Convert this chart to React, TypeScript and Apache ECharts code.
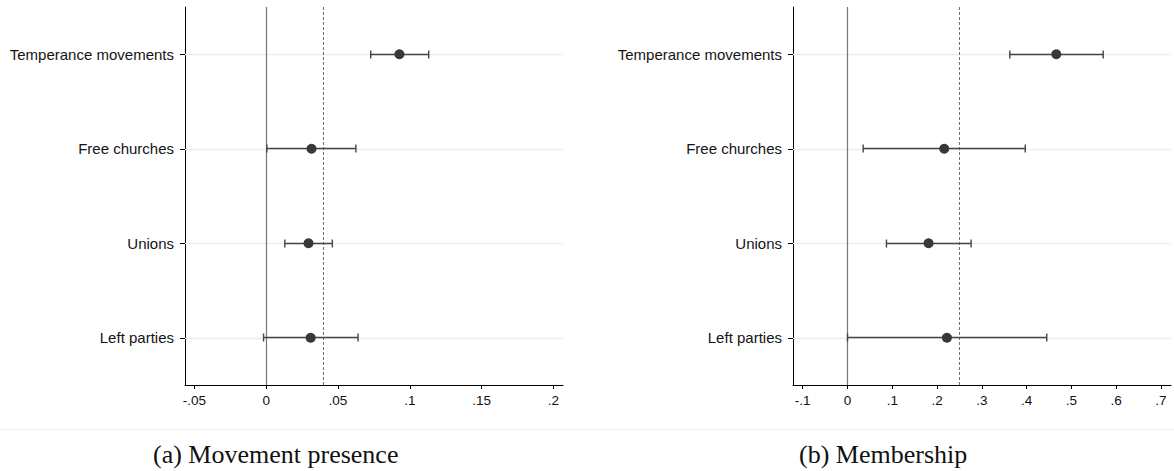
import React, { useEffect, useRef } from "react";
import * as echarts from "echarts";

const categories = ["Temperance movements", "Free churches", "Unions", "Left parties"];

const presenceEst = [0.0928, 0.0316, 0.0295, 0.031];
const presenceLow = [0.0728, 0.0005, 0.013, -0.0018];
const presenceHigh = [0.1132, 0.0625, 0.0461, 0.064];
const presenceRef = 0.0403;
const presenceTicks = [-0.05, 0, 0.05, 0.1, 0.15, 0.2];
const presenceRange = [-0.0565, 0.2067];

const memberEst = [0.4663, 0.216, 0.181, 0.222];
const memberLow = [0.3624, 0.035, 0.087, 0.0];
const memberHigh = [0.571, 0.397, 0.276, 0.445];
const memberRef = 0.248;
const memberTicks = [-0.1, 0, 0.1, 0.2, 0.3, 0.4, 0.5, 0.6, 0.7];
const memberRange = [-0.1217, 0.7224];

const captions = ["(a) Movement presence", "(b) Membership"];

const fmt = (v: number) => (v === 0 ? "0" : String(v).replace(/^(-?)0\./, "$1."));

const SANS = "'Liberation Sans', Arial, Helvetica, sans-serif";
const SERIF = "'Liberation Serif', 'Times New Roman', serif";

export default function App() {
  const ref = useRef<HTMLDivElement>(null);
  useEffect(() => {
    if (!ref.current) return;
    const chart = echarts.init(ref.current, undefined, { renderer: "svg" });

    const grids = [
      { left: 185, right: 611, top: 7, bottom: 86, outerBoundsMode: "none" },
      { left: 793, right: 3, top: 7, bottom: 86, outerBoundsMode: "none" },
    ];
    const ranges = [presenceRange, memberRange];
    const ticks = [presenceTicks, memberTicks];
    const ests = [presenceEst, memberEst];
    const lows = [presenceLow, memberLow];
    const highs = [presenceHigh, memberHigh];
    const refs = [presenceRef, memberRef];

    const xAxis = [0, 1].map((i) => ({
      type: "value",
      gridIndex: i,
      min: ranges[i][0],
      max: ranges[i][1],
      axisLine: { show: true, onZero: false, lineStyle: { color: "#000", width: 1 } },
      axisTick: { show: true, length: 4, customValues: ticks[i], lineStyle: { color: "#000" } },
      axisLabel: {
        customValues: ticks[i],
        formatter: fmt,
        margin: 8,
        color: "#111",
        fontSize: 13.5,
        fontFamily: SANS,
      },
      splitLine: { show: false },
    }));

    const yAxis = [0, 1].map((i) => ({
      type: "category",
      gridIndex: i,
      data: categories,
      inverse: true,
      axisLine: { show: true, onZero: false, lineStyle: { color: "#000", width: 1 } },
      axisTick: { show: true, alignWithLabel: true, length: 5, lineStyle: { color: "#000" } },
      axisLabel: { margin: 11, color: "#141414", fontSize: 15, fontFamily: SANS },
      splitLine: { show: false },
    }));

    const series: any[] = [];
    [0, 1].forEach((i) => {
      series.push({
        type: "scatter",
        xAxisIndex: i,
        yAxisIndex: i,
        z: 1,
        symbolSize: 0,
        silent: true,
        data: [],
        markLine: {
          z: 1,
          silent: true,
          symbol: ["none", "none"],
          label: { show: false },
          lineStyle: { color: "#e7eff1", width: 1.3, type: "solid" },
          data: categories.map((c) => ({ yAxis: c })),
        },
      });
      series.push({
        type: "scatter",
        xAxisIndex: i,
        yAxisIndex: i,
        z: 2,
        symbolSize: 0,
        silent: true,
        data: [],
        markLine: {
          z: 2,
          silent: true,
          symbol: ["none", "none"],
          label: { show: false },
          data: [
            { xAxis: 0, lineStyle: { color: "#767676", width: 1.2, type: "solid" } },
            { xAxis: refs[i], lineStyle: { color: "#707070", width: 1, type: [3, 2] } },
          ],
        },
      });
      series.push({
        type: "custom",
        xAxisIndex: i,
        yAxisIndex: i,
        z: 3,
        silent: true,
        encode: { x: [1, 2], y: 0 },
        data: categories.map((_, k) => [k, lows[i][k], highs[i][k]]),
        renderItem: (params: any, api: any) => {
          const cat = api.value(0);
          const p1 = api.coord([api.value(1), cat]);
          const p2 = api.coord([api.value(2), cat]);
          const y = Math.floor(p1[1]) + 0.5;
          const h = 4;
          const st = { stroke: "#454545", lineWidth: 1.4 };
          return {
            type: "group",
            children: [
              { type: "line", shape: { x1: p1[0], y1: y, x2: p2[0], y2: y }, style: st },
              { type: "line", shape: { x1: p1[0], y1: y - h, x2: p1[0], y2: y + h }, style: st },
              { type: "line", shape: { x1: p2[0], y1: y - h, x2: p2[0], y2: y + h }, style: st },
            ],
          };
        },
      });
      series.push({
        type: "scatter",
        xAxisIndex: i,
        yAxisIndex: i,
        z: 4,
        silent: true,
        symbol: "circle",
        symbolSize: 10,
        itemStyle: { color: "#383838", opacity: 1 },
        data: categories.map((_, k) => [ests[i][k], k]),
      });
    });

    chart.setOption({
      animation: false,
      backgroundColor: "#fff",
      grid: grids,
      xAxis,
      yAxis,
      series,
      graphic: [
        {
          type: "line",
          shape: { x1: 0, y1: 429.5, x2: 1174, y2: 429.5 },
          style: { stroke: "#eef0f0", lineWidth: 1 },
          silent: true,
        },
        {
          type: "text",
          x: 153,
          y: 454,
          style: {
            text: captions[0],
            fontFamily: SERIF,
            fontSize: 26,
            fill: "#111",
            verticalAlign: "middle",
          },
          silent: true,
        },
        {
          type: "text",
          x: 799,
          y: 454,
          style: {
            text: captions[1],
            fontFamily: SERIF,
            fontSize: 26,
            fill: "#111",
            verticalAlign: "middle",
          },
          silent: true,
        },
      ],
    });
    return () => chart.dispose();
  }, []);

  return (
    <div
      ref={ref}
      style={{ position: "fixed", left: 0, top: 0, width: 1174, height: 471, background: "#fff" }}
    />
  );
}
